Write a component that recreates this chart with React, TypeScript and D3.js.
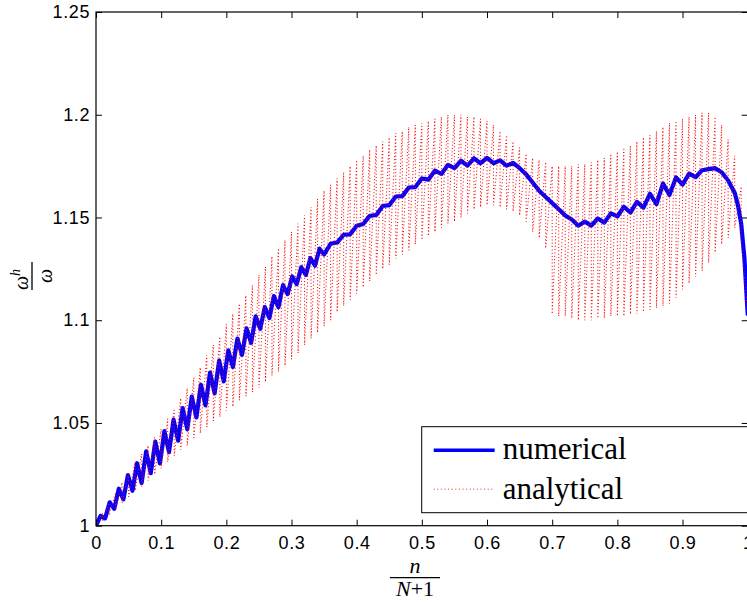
import React, { useEffect, useRef } from 'react';
import * as d3 from 'd3';

// axis ticks
const xTicks = [0, 0.1, 0.2, 0.3, 0.4, 0.5, 0.6, 0.7, 0.8, 0.9, 1];
const xTickLabels = ['0', '0.1', '0.2', '0.3', '0.4', '0.5', '0.6', '0.7', '0.8', '0.9', '1'];
const yTicks = [1, 1.05, 1.1, 1.15, 1.2, 1.25];
const yTickLabels = ['1', '1.05', '1.1', '1.15', '1.2', '1.25'];

const seriesNames = ['numerical', 'analytical'];

// numerical solution, [n/(N+1), omega_h/omega]
const numerical: [number, number][] = [
  [0.000, 1.0000], [0.007, 1.0048], [0.014, 1.0036], [0.021, 1.0114], [0.028, 1.0082],
  [0.035, 1.0180], [0.042, 1.0128], [0.049, 1.0246], [0.056, 1.0170], [0.063, 1.0304],
  [0.070, 1.0208], [0.077, 1.0362], [0.084, 1.0256], [0.091, 1.0409], [0.098, 1.0303],
  [0.105, 1.0460], [0.112, 1.0358], [0.119, 1.0516], [0.126, 1.0414], [0.133, 1.0572],
  [0.140, 1.0470], [0.147, 1.0628], [0.154, 1.0527], [0.161, 1.0686], [0.168, 1.0586],
  [0.175, 1.0745], [0.182, 1.0644], [0.189, 1.0804], [0.196, 1.0703], [0.203, 1.0853],
  [0.210, 1.0772], [0.217, 1.0911], [0.224, 1.0831], [0.231, 1.0960], [0.238, 1.0890],
  [0.245, 1.1019], [0.252, 1.0958], [0.259, 1.1064], [0.266, 1.1011], [0.273, 1.1117],
  [0.280, 1.1064], [0.287, 1.1171], [0.294, 1.1127], [0.301, 1.1213], [0.308, 1.1176],
  [0.315, 1.1258], [0.322, 1.1220], [0.329, 1.1303], [0.336, 1.1265], [0.343, 1.1348],
  [0.350, 1.1320], [0.360, 1.1372], [0.370, 1.1378], [0.380, 1.1416], [0.390, 1.1418],
  [0.400, 1.1460], [0.410, 1.1468], [0.420, 1.1508], [0.430, 1.1512], [0.440, 1.1556],
  [0.450, 1.1560], [0.460, 1.1602], [0.470, 1.1604], [0.480, 1.1646], [0.490, 1.1648],
  [0.500, 1.1690], [0.510, 1.1684], [0.520, 1.1728], [0.530, 1.1712], [0.540, 1.1756],
  [0.550, 1.1740], [0.560, 1.1776], [0.570, 1.1752], [0.580, 1.1788], [0.590, 1.1764],
  [0.600, 1.1790], [0.610, 1.1764], [0.620, 1.1778], [0.630, 1.1752], [0.640, 1.1766],
  [0.650, 1.1740], [0.660, 1.1710], [0.670, 1.1670], [0.680, 1.1630], [0.690, 1.1600],
  [0.700, 1.1570], [0.710, 1.1540], [0.720, 1.1510], [0.730, 1.1490], [0.740, 1.1460],
  [0.750, 1.1480], [0.760, 1.1460], [0.770, 1.1495], [0.780, 1.1475], [0.790, 1.1520],
  [0.800, 1.1505], [0.810, 1.1552], [0.820, 1.1524], [0.830, 1.1576], [0.840, 1.1548],
  [0.850, 1.1615], [0.860, 1.1565], [0.870, 1.1665], [0.880, 1.1610], [0.890, 1.1695],
  [0.900, 1.1660], [0.910, 1.1713], [0.920, 1.1696], [0.930, 1.1730], [0.940, 1.1735],
  [0.950, 1.1740], [0.960, 1.1720], [0.970, 1.1680], [0.980, 1.1620], [0.985, 1.1560],
  [0.990, 1.1470], [0.995, 1.1300], [1.000, 1.1030],
];

// analytical solution, oscillates every step: [x, low, high]
const analytical: [number, number, number][] = [
  [0.00, 1.000, 1.000], [0.01, 1.002, 1.006], [0.02, 1.005, 1.011], [0.03, 1.008, 1.016],
  [0.04, 1.011, 1.021], [0.05, 1.014, 1.026], [0.06, 1.017, 1.031], [0.07, 1.019, 1.035],
  [0.08, 1.022, 1.039], [0.09, 1.025, 1.043], [0.10, 1.028, 1.047], [0.11, 1.031, 1.052],
  [0.12, 1.034, 1.057], [0.13, 1.037, 1.062], [0.14, 1.039, 1.067], [0.15, 1.042, 1.072],
  [0.16, 1.045, 1.077], [0.17, 1.048, 1.083], [0.18, 1.051, 1.088], [0.19, 1.053, 1.092],
  [0.20, 1.056, 1.098], [0.21, 1.058, 1.103], [0.22, 1.061, 1.108], [0.23, 1.063, 1.112],
  [0.24, 1.065, 1.117], [0.25, 1.067, 1.122], [0.26, 1.070, 1.126], [0.27, 1.073, 1.131],
  [0.28, 1.075, 1.135], [0.29, 1.078, 1.139], [0.30, 1.081, 1.143], [0.31, 1.084, 1.147],
  [0.32, 1.088, 1.151], [0.33, 1.091, 1.155], [0.34, 1.094, 1.159], [0.35, 1.097, 1.163],
  [0.36, 1.100, 1.166], [0.37, 1.104, 1.169], [0.38, 1.107, 1.172], [0.39, 1.110, 1.175],
  [0.40, 1.113, 1.178], [0.41, 1.116, 1.180], [0.42, 1.119, 1.183], [0.43, 1.122, 1.185],
  [0.44, 1.125, 1.187], [0.45, 1.127, 1.189], [0.46, 1.130, 1.191], [0.47, 1.132, 1.192],
  [0.48, 1.134, 1.194], [0.49, 1.137, 1.195], [0.50, 1.139, 1.196], [0.51, 1.141, 1.197],
  [0.52, 1.143, 1.198], [0.53, 1.145, 1.199], [0.54, 1.147, 1.200], [0.55, 1.148, 1.200],
  [0.56, 1.150, 1.200], [0.57, 1.152, 1.199], [0.58, 1.154, 1.199], [0.59, 1.155, 1.198],
  [0.60, 1.156, 1.197], [0.61, 1.156, 1.195], [0.62, 1.155, 1.192], [0.63, 1.154, 1.190],
  [0.64, 1.153, 1.187], [0.65, 1.151, 1.184], [0.66, 1.148, 1.181], [0.67, 1.143, 1.179],
  [0.68, 1.140, 1.178], [0.69, 1.135, 1.177], [0.70, 1.103, 1.175], [0.71, 1.102, 1.175],
  [0.72, 1.102, 1.175], [0.73, 1.101, 1.175], [0.74, 1.100, 1.176], [0.75, 1.100, 1.176],
  [0.76, 1.100, 1.177], [0.77, 1.101, 1.178], [0.78, 1.101, 1.179], [0.79, 1.102, 1.181],
  [0.80, 1.102, 1.182], [0.81, 1.102, 1.184], [0.82, 1.103, 1.185], [0.83, 1.103, 1.187],
  [0.84, 1.104, 1.189], [0.85, 1.105, 1.190], [0.86, 1.106, 1.192], [0.87, 1.107, 1.194],
  [0.88, 1.108, 1.196], [0.89, 1.111, 1.197], [0.90, 1.115, 1.198], [0.91, 1.118, 1.199],
  [0.92, 1.121, 1.200], [0.93, 1.124, 1.201], [0.94, 1.128, 1.201], [0.95, 1.133, 1.199],
  [0.96, 1.137, 1.195], [0.97, 1.140, 1.188], [0.98, 1.145, 1.180], [0.99, 1.140, 1.165],
  [1.00, 1.103, 1.103],
];

const W = 747;
const H = 603;
const plot = { left: 96, right: 747.7, top: 12, bottom: 525.7 };
const sans = "'Liberation Sans', Arial, Helvetica, sans-serif";
const serif = "'Liberation Serif', 'Times New Roman', serif";

export default function App() {
  const ref = useRef<SVGSVGElement>(null);

  useEffect(() => {
    const svg = d3.select(ref.current);
    svg.selectAll('*').remove();

    const x = d3.scaleLinear().domain([0, 1]).range([plot.left, plot.right]);
    const y = d3.scaleLinear().domain([1, 1.25]).range([plot.bottom, plot.top]);

    svg.append('defs').append('clipPath').attr('id', 'plotClip')
      .append('rect')
      .attr('x', plot.left).attr('y', plot.top)
      .attr('width', plot.right - plot.left).attr('height', plot.bottom - plot.top);

    svg.append('rect')
      .attr('x', plot.left).attr('y', plot.top)
      .attr('width', plot.right - plot.left).attr('height', plot.bottom - plot.top)
      .attr('fill', '#fff');

    const lines = svg.append('g').attr('clip-path', 'url(#plotClip)');

    // analytical: drop to the low value, then climb to the next high value
    const analyticalPts: [number, number][] = analytical.flatMap(
      (d) => [[d[0], d[2]], [d[0], d[1]]] as [number, number][]
    );
    const line = d3.line<[number, number]>().x((d) => x(d[0])).y((d) => y(d[1]));

    lines.append('path')
      .attr('d', line(numerical))
      .attr('fill', 'none')
      .attr('stroke', '#0000ff')
      .attr('stroke-width', 4.2)
      .attr('stroke-linejoin', 'round')
      .attr('stroke-linecap', 'round');

    lines.append('path')
      .attr('d', line(analyticalPts))
      .attr('fill', 'none')
      .attr('stroke', '#ff0000')
      .attr('stroke-width', 1.05)
      .attr('stroke-dasharray', '1 2.3');

    // axes, ticks on all four sides pointing in
    const styleAxis = (g: d3.Selection<SVGGElement, unknown, null, undefined>) => {
      g.select('.domain').remove();
      g.selectAll('line').attr('stroke', '#000').attr('stroke-width', 1);
      g.attr('font-family', sans).attr('font-size', 18);
      g.selectAll('text').attr('fill', '#000').style('letter-spacing', '0.6px');
    };

    svg.append('g')
      .attr('transform', `translate(0,${plot.bottom})`)
      .call(d3.axisBottom(x).tickValues(xTicks)
        .tickFormat((_, i) => xTickLabels[i]).tickSizeInner(-6).tickSizeOuter(0).tickPadding(10.8))
      .call(styleAxis);

    svg.append('g')
      .attr('transform', `translate(0,${plot.top})`)
      .call(d3.axisTop(x).tickValues(xTicks).tickFormat(() => '').tickSizeInner(-6).tickSizeOuter(0))
      .call(styleAxis);

    svg.append('g')
      .attr('transform', `translate(${plot.left},0)`)
      .call(d3.axisLeft(y).tickValues(yTicks)
        .tickFormat((_, i) => yTickLabels[i]).tickSizeInner(-6).tickSizeOuter(0).tickPadding(6))
      .call(styleAxis);

    svg.append('g')
      .attr('transform', `translate(${plot.right},0)`)
      .call(d3.axisRight(y).tickValues(yTicks).tickFormat(() => '').tickSizeInner(-6).tickSizeOuter(0))
      .call(styleAxis);

    svg.append('rect')
      .attr('x', plot.left).attr('y', plot.top)
      .attr('width', plot.right - plot.left).attr('height', plot.bottom - plot.top)
      .attr('fill', 'none').attr('stroke', '#000').attr('stroke-width', 1.2);

    // legend
    const lg = svg.append('g').attr('transform', 'translate(421.7,426.7)');
    lg.append('rect')
      .attr('width', 332).attr('height', 86)
      .attr('fill', '#fff').attr('stroke', '#000').attr('stroke-width', 1);
    lg.append('line')
      .attr('x1', 12).attr('x2', 73).attr('y1', 23.5).attr('y2', 23.5)
      .attr('stroke', '#0000ff').attr('stroke-width', 3.6);
    lg.append('line')
      .attr('x1', 12).attr('x2', 73).attr('y1', 62.5).attr('y2', 62.5)
      .attr('stroke', '#ff0000').attr('stroke-width', 0.9).attr('stroke-dasharray', '1 2.6');
    lg.selectAll('text.item')
      .data(seriesNames)
      .enter()
      .append('text')
      .attr('class', 'item')
      .attr('x', 81)
      .attr('y', (_, i) => (i === 0 ? 32.5 : 72.5))
      .attr('font-family', serif)
      .attr('font-size', 31)
      .attr('fill', '#000')
      .text((d) => d);

    // x label: n / (N+1)
    const xl = svg.append('g').attr('font-family', serif).attr('font-size', 22).attr('fill', '#000');
    xl.append('text').attr('x', 415).attr('y', 573).attr('text-anchor', 'middle')
      .attr('font-style', 'italic').text('n');
    xl.append('line').attr('x1', 390).attr('x2', 440).attr('y1', 577.7).attr('y2', 577.7)
      .attr('stroke', '#000').attr('stroke-width', 1.3);
    const den = xl.append('text').attr('x', 415).attr('y', 596).attr('text-anchor', 'middle');
    den.append('tspan').attr('font-style', 'italic').text('N');
    den.append('tspan').text('+1');

    // y label: omega^h / omega, rotated
    const yl = svg.append('g')
      .attr('transform', 'translate(32,276) rotate(-90)')
      .attr('font-family', serif).attr('fill', '#000');
    const num = yl.append('text').attr('x', -14).attr('y', -4).attr('font-size', 20).attr('font-style', 'italic');
    num.append('tspan').text('ω');
    num.append('tspan').attr('dy', -8).attr('font-size', 14).text('h');
    yl.append('line').attr('x1', -14).attr('x2', 14).attr('y1', 0).attr('y2', 0)
      .attr('stroke', '#000').attr('stroke-width', 1.3);
    yl.append('text').attr('x', 0).attr('y', 20).attr('text-anchor', 'middle')
      .attr('font-size', 20).attr('font-style', 'italic').text('ω');
  }, []);

  return (
    <svg
      ref={ref}
      width={W}
      height={H}
      style={{ position: 'absolute', left: 0, top: 0, background: '#fff' }}
    />
  );
}
